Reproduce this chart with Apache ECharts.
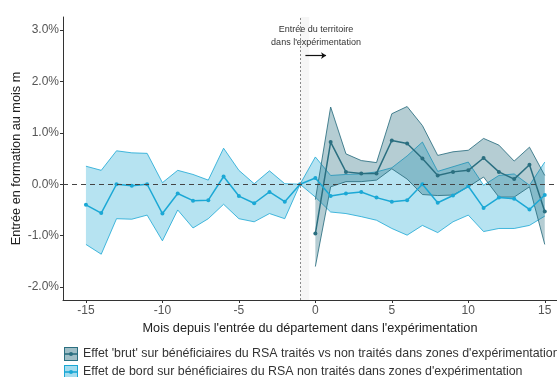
<!DOCTYPE html>
<html>
<head>
<meta charset="utf-8">
<script src="https://cdn.jsdelivr.net/npm/echarts@6/dist/echarts.min.js"></script>
<style>
  html, body { margin: 0; padding: 0; background: #fff; }
  #chart { width: 557px; height: 377px; }
</style>
</head>
<body>
<div id="chart"></div>
<script>
// Mois relatifs
const moisBord = [-15,-14,-13,-12,-11,-10,-9,-8,-7,-6,-5,-4,-3,-2,-1,0,1,2,3,4,5,6,7,8,9,10,11,12,13,14,15];
const moisBrut = [0,1,2,3,4,5,6,7,8,9,10,11,12,13,14,15];

// Effet de bord (en %)
const bordMoy = [-0.40,-0.56,0.00,-0.03,0.00,-0.57,-0.18,-0.32,-0.31,0.15,-0.23,-0.37,-0.15,-0.34,0.00,0.12,-0.23,-0.18,-0.15,-0.26,-0.34,-0.31,0.00,-0.36,-0.22,-0.04,-0.46,-0.26,-0.28,-0.49,-0.21];
const bordHaut = [0.35,0.27,0.65,0.61,0.60,0.03,0.27,0.19,0.08,0.70,0.27,0.01,0.26,0.01,0.00,0.53,0.17,0.19,0.20,0.24,0.32,0.55,0.82,0.25,0.34,0.43,-0.02,0.17,0.20,-0.02,0.43];
const bordBas = [-1.17,-1.36,-0.67,-0.68,-0.60,-1.10,-0.50,-0.85,-0.67,-0.39,-0.67,-0.73,-0.57,-0.67,0.00,-0.25,-0.54,-0.57,-0.63,-0.70,-0.86,-0.99,-0.80,-0.94,-0.73,-0.60,-0.92,-0.86,-0.86,-0.80,-0.62];

// Effet 'brut' (en %)
const brutMoy = [-0.96,0.82,0.24,0.21,0.21,0.85,0.79,0.50,0.17,0.24,0.27,0.51,0.24,0.10,0.38,-0.53];
const brutHaut = [-0.30,1.50,0.59,0.46,0.42,1.37,1.51,1.14,0.56,0.63,0.66,0.89,0.76,0.45,0.72,0.17];
const brutBas = [-1.60,-0.05,0.05,0.05,0.08,0.30,0.10,-0.20,-0.22,-0.21,-0.05,0.14,-0.25,-0.25,-0.05,-1.17];

const ticksX = [-15,-10,-5,0,5,10,15];
const ticksY = [-2,-1,0,1,2,3];

const nomBrut = "Effet 'brut' sur bénéficiaires du RSA traités vs non traités dans zones d'expérimentation";
const nomBord = "Effet de bord sur bénéficiaires du RSA non traités dans zones d'expérimentation";

const coulBrut = '#2b6f80';
const coulBord = '#1ba8d5';

function icone(fond, trait) {
  const svg = `<svg xmlns='http://www.w3.org/2000/svg' width='14' height='14'>` +
    `<rect x='0.5' y='0.5' width='13' height='13' fill='${fond}' stroke='${trait}'/>` +
    `<line x1='0' y1='7' x2='14' y2='7' stroke='${trait}' stroke-width='1.6'/>` +
    `<circle cx='7' cy='7' r='2' fill='${trait}'/></svg>`;
  return 'image://data:image/svg+xml;charset=utf-8,' + encodeURIComponent(svg);
}

// ruban (intervalle de confiance) dessiné en un seul polygone
function ruban(xs, bas, haut, fond, bord) {
  return {
    type: 'custom',
    silent: true,
    z: 1,
    data: xs.map((x, i) => [x, bas[i], haut[i]]),
    encode: { x: 0, y: [1, 2] },
    renderItem: function (params, api) {
      if (params.dataIndexInside !== 0) return null;
      const hautPts = xs.map((x, i) => api.coord([x, haut[i]]));
      const basPts = xs.map((x, i) => api.coord([x, bas[i]]));
      return {
        type: 'group',
        children: [
          { type: 'polygon', shape: { points: hautPts.concat(basPts.slice().reverse()) },
            style: { fill: fond } },
          { type: 'polyline', shape: { points: hautPts }, style: { stroke: bord, lineWidth: 1, fill: null } },
          { type: 'polyline', shape: { points: basPts }, style: { stroke: bord, lineWidth: 1, fill: null } }
        ]
      };
    }
  };
}

const chart = echarts.init(document.getElementById('chart'), null, { renderer: 'canvas' });

const police = 'Liberation Sans, Arial, sans-serif';
const styleLegende = { fontSize: 12.4, color: '#333', fontFamily: police };

chart.setOption({
  animation: false,
  backgroundColor: '#fff',
  textStyle: { fontFamily: police },
  grid: { left: 63, right: 0, top: 17, bottom: 77, outerBoundsMode: 'none' },
  legend: [
    {
      left: 59, top: 342, itemWidth: 14, itemHeight: 14, itemGap: 8, textStyle: styleLegende,
      data: [{ name: nomBrut, icon: icone('rgba(43,111,128,0.45)', coulBrut) }]
    },
    {
      left: 59, top: 360, itemWidth: 14, itemHeight: 14, itemGap: 8, textStyle: styleLegende,
      data: [{ name: nomBord, icon: icone('rgba(27,168,213,0.4)', coulBord) }]
    }
  ],
  xAxis: {
    type: 'value',
    min: -16.5,
    max: 15.8,
    name: "Mois depuis l'entrée du département dans l'expérimentation",
    nameLocation: 'middle',
    nameGap: 19,
    nameTextStyle: { fontSize: 12.7, color: '#222', fontFamily: police },
    axisLine: { onZero: false, lineStyle: { color: '#333', width: 1 } },
    axisTick: { show: true, length: 3, lineStyle: { color: '#333' }, customValues: ticksX },
    axisLabel: { fontSize: 12, color: '#555', margin: 5, customValues: ticksX },
    splitLine: { show: false }
  },
  yAxis: {
    type: 'value',
    min: -2.25,
    max: 3.25,
    name: 'Entrée en formation au mois m',
    nameLocation: 'middle',
    nameGap: 40,
    nameMoveOverlap: false,
    nameTextStyle: { fontSize: 12.7, color: '#222', fontFamily: police },
    axisLine: { show: true, onZero: false, lineStyle: { color: '#333', width: 1 } },
    axisTick: { show: true, length: 3, lineStyle: { color: '#333' }, customValues: ticksY },
    axisLabel: { fontSize: 12, color: '#555', margin: 4, customValues: ticksY,
      formatter: v => v.toFixed(1) + '%' },
    splitLine: { show: false }
  },
  graphic: [
    { type: 'text', x: 316, y: 30, style: { text: 'Entrée du territoire', fontSize: 9, fill: '#333',
      align: 'center', verticalAlign: 'middle', fontFamily: police } },
    { type: 'text', x: 316, y: 43, style: { text: "dans l'expérimentation", fontSize: 9, fill: '#333',
      align: 'center', verticalAlign: 'middle', fontFamily: police } }
  ],
  series: [
    // zone grisée + ligne verticale + ligne horizontale + flèche
    {
      type: 'line',
      data: [],
      silent: true,
      markArea: {
        silent: true,
        itemStyle: { color: 'rgba(0,0,0,0.035)' },
        data: [[{ xAxis: -1 }, { xAxis: -0.4 }]]
      },
      markLine: {
        silent: true,
        symbol: 'none',
        label: { show: false },
        data: [
          { xAxis: -1, lineStyle: { type: [2, 2], color: '#888', width: 1 } },
          { yAxis: 0, lineStyle: { type: [5, 4], color: '#444', width: 1 } },
          [
            { coord: [-0.65, 2.5], symbol: 'none', lineStyle: { type: 'solid', color: '#111', width: 1.2 } },
            { coord: [0.7, 2.5], symbol: 'arrow', symbolSize: 5 }
          ]
        ]
      }
    },
    ruban(moisBord, bordBas, bordHaut, 'rgba(27,168,213,0.32)', 'rgba(27,168,213,0.8)'),
    ruban(moisBrut, brutBas, brutHaut, 'rgba(43,111,128,0.35)', 'rgba(43,111,128,0.85)'),
    {
      name: nomBrut,
      type: 'line',
      z: 3,
      data: moisBrut.map((x, i) => [x, brutMoy[i]]),
      symbol: 'circle',
      symbolSize: 4,
      itemStyle: { color: coulBrut },
      lineStyle: { color: coulBrut, width: 1.5 }
    },
    {
      name: nomBord,
      type: 'line',
      z: 3,
      data: moisBord.map((x, i) => [x, bordMoy[i]]),
      symbol: 'circle',
      symbolSize: 4,
      itemStyle: { color: coulBord },
      lineStyle: { color: coulBord, width: 1.5 }
    }
  ]
});
</script>
</body>
</html>
